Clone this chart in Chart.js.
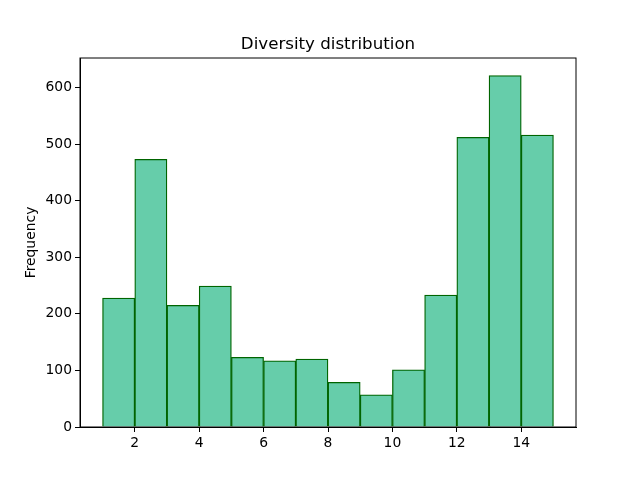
<!DOCTYPE html>
<html lang="en">
<head>
  <meta charset="UTF-8">
  <title>Diversity distribution</title>
  <script src="https://cdn.jsdelivr.net/npm/chart.js"></script>
  <style>
    html, body { margin: 0; padding: 0; background: #fff; }
    canvas { display: block; }
  </style>
</head>
<body>
<canvas id="hist" width="640" height="480"></canvas>
<script>
// bin centres (bins of width 1 from 1 to 15)
const binCenters = [1.5, 2.5, 3.5, 4.5, 5.5, 6.5, 7.5, 8.5, 9.5, 10.5, 11.5, 12.5, 13.5, 14.5];
const counts = [228, 473, 215, 249, 123, 117, 120, 79, 57, 101, 233, 512, 621, 516];
const xTicks = [2, 4, 6, 8, 10, 12, 14];
const yTicks = [0, 100, 200, 300, 400, 500, 600];

const font = "'DejaVu Sans', sans-serif";

const frame = {
  id: 'frame',
  afterDraw(chart) {
    const a = chart.chartArea;
    const ctx = chart.ctx;
    ctx.save();
    ctx.strokeStyle = '#000';
    ctx.lineWidth = 1;
    ctx.strokeRect(a.left, a.top, a.right - a.left, a.bottom - a.top);
    ctx.restore();
  }
};

new Chart(document.getElementById('hist'), {
  type: 'bar',
  data: {
    datasets: [{
      data: binCenters.map((x, i) => ({ x: x, y: counts[i] })),
      backgroundColor: '#66cdaa',
      borderColor: '#006400',
      borderWidth: 1.3,
      barPercentage: 1,
      categoryPercentage: 1,
      grouped: false
    }]
  },
  options: {
    responsive: false,
    animation: false,
    layout: { padding: { left: 0, right: 64, top: 0, bottom: 0 } },
    plugins: {
      legend: { display: false },
      tooltip: { enabled: false },
      title: {
        display: true,
        fullSize: false,
        text: 'Diversity distribution',
        color: '#000',
        font: { family: font, size: 16.67, weight: 'normal', lineHeight: 1.2 },
        padding: { top: 35, bottom: 3 }
      }
    },
    scales: {
      x: {
        type: 'linear',
        min: 0.3,
        max: 15.7,
        offset: false,
        afterBuildTicks: s => { s.ticks = xTicks.map(v => ({ value: v })); },
        afterFit: s => { s.height = 53; },
        ticks: { color: '#000', padding: 3, font: { family: font, size: 13.89 }, maxRotation: 0 },
        grid: { offset: false, drawOnChartArea: false, tickLength: 5, color: '#000', tickColor: '#000' },
        border: { color: '#000', width: 1 }
      },
      y: {
        min: 0,
        max: 652.05,
        afterBuildTicks: s => { s.ticks = yTicks.map(v => ({ value: v })); },
        afterFit: s => { s.width = 80; },
        ticks: { color: '#000', padding: 3, font: { family: font, size: 13.89 } },
        grid: { drawOnChartArea: false, tickLength: 5, color: '#000', tickColor: '#000' },
        border: { color: '#000', width: 1 },
        title: {
          display: true,
          text: 'Frequency',
          color: '#000',
          font: { family: font, size: 13.89, lineHeight: 1.2 },
          padding: { top: 22.7, bottom: 0 }
        }
      }
    }
  },
  plugins: [frame]
});
</script>
</body>
</html>
